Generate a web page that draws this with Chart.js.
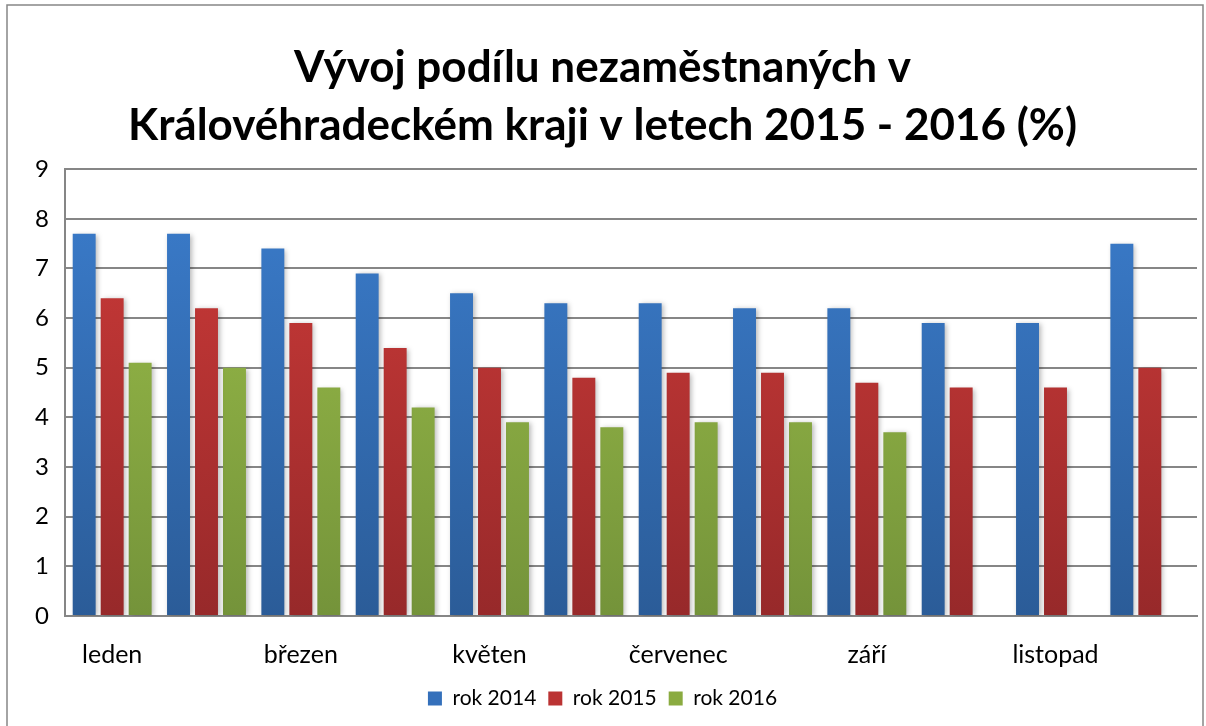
<!DOCTYPE html>
<html>
<head>
<meta charset="utf-8">
<script src="https://cdn.jsdelivr.net/npm/chart.js@4"></script>
<style>
  html, body { margin: 0; padding: 0; background: #fff; }
  #wrap { width: 1206px; height: 726px; position: relative; }
</style>
</head>
<body>
<div id="wrap"><canvas id="myChart"></canvas></div>
<script>
const months = ['leden', 'únor', 'březen', 'duben', 'květen', 'červen', 'červenec', 'srpen', 'září', 'říjen', 'listopad', 'prosinec'];
const rok2014 = [7.7, 7.7, 7.4, 6.9, 6.5, 6.3, 6.3, 6.2, 6.2, 5.9, 5.9, 7.5];
const rok2015 = [6.4, 6.2, 5.9, 5.4, 5.0, 4.8, 4.9, 4.9, 4.7, 4.6, 4.6, 5.0];
const rok2016 = [5.1, 5.0, 4.6, 4.2, 3.9, 3.8, 3.9, 3.9, 3.7, null, null, null];
const yTicks = [0, 1, 2, 3, 4, 5, 6, 7, 8, 9];

const fontFam = 'Lato, "Open Sans", sans-serif';

function grad(top, bottom) {
    return function (c) {
        const area = c.chart.chartArea;
        if (!area) return top;
        const g = c.chart.ctx.createLinearGradient(0, area.top, 0, area.bottom);
        g.addColorStop(0, top);
        g.addColorStop(1, bottom);
        return g;
    };
}

// soft shadow behind bars + outer frame
const extras = {
    id: 'extras',
    beforeDatasetsDraw(chart) {
        const ctx = chart.ctx;
        ctx.save();
        ctx.shadowColor = 'rgba(0,0,0,0.28)';
        ctx.shadowBlur = 5;
        ctx.shadowOffsetX = 2;
        ctx.shadowOffsetY = 1;
    },
    afterDatasetsDraw(chart) {
        chart.ctx.restore();
    },
    afterDraw(chart) {
        const ctx = chart.ctx;
        ctx.save();
        ctx.strokeStyle = '#868686';
        ctx.lineWidth = 1.5;
        ctx.strokeRect(7, 5, 1196, 740);
        ctx.restore();
    }
};

new Chart(document.getElementById('myChart'), {
type: 'bar',
data: {
    labels: months,
    datasets: [{
        label: 'rok 2014',
        data: rok2014,
        backgroundColor: grad('#3b7dcd', '#2b5c98')
    }, {
        label: 'rok 2015',
        data: rok2015,
        backgroundColor: grad('#cf3b39', '#97292a')
    }, {
        label: 'rok 2016',
        data: rok2016,
        backgroundColor: grad('#9dc04a', '#74933a')
    }]
},
options: {
    responsive: true,
    maintainAspectRatio: false,
    animation: false,
    categoryPercentage: 0.89,
    barPercentage: 0.82,
    layout: { padding: { left: 8, right: 9, top: 8, bottom: 7 } },
    plugins: {
        title: {
            display: true,
            text: ['Vývoj podílu nezaměstnaných v', 'Královéhradeckém kraji v letech 2015 - 2016 (%)'],
            color: '#000',
            font: { family: fontFam, size: 44, weight: 'bold', lineHeight: 1.32 },
            padding: { top: 31, bottom: 14 }
        },
        legend: {
            position: 'bottom',
            labels: {
                color: '#000',
                font: { family: fontFam, size: 21 },
                boxWidth: 14,
                boxHeight: 14,
                padding: 12,
                generateLabels(chart) {
                    const cols = ['#3470bb', '#bb3333', '#8aab40'];
                    return chart.data.datasets.map((d, i) => ({
                        text: d.label, fillStyle: cols[i], strokeStyle: cols[i], lineWidth: 0, datasetIndex: i
                    }));
                }
            }
        },
        tooltip: { enabled: false }
    },
    scales: {
        x: {
            afterFit(s) { s.height = 60; },
            grid: { display: false },
            border: { display: true, color: '#868686', width: 2 },
            ticks: {
                color: '#000',
                font: { family: fontFam, size: 25 },
                autoSkip: false,
                maxRotation: 0,
                padding: 16,
                callback(v, i) { return i % 2 === 0 ? months[i] : ''; }
            }
        },
        y: {
            min: 0,
            max: 9,
            afterFit(s) { s.width = 57; },
            afterBuildTicks(s) { s.ticks = yTicks.map(v => ({ value: v })); },
            grid: { color: '#868686', lineWidth: 2, drawTicks: false },
            border: { display: true, color: '#868686', width: 2 },
            ticks: {
                color: '#000',
                font: { family: fontFam, size: 24 },
                padding: 16,
                stepSize: 1
            }
        }
    }
},
plugins: [extras]
})
</script>
</body>
</html>
